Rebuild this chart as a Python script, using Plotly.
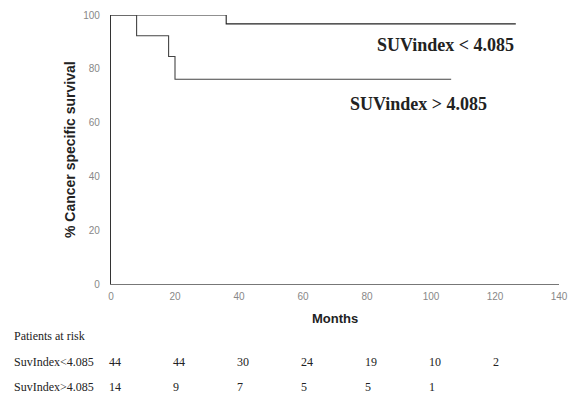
import plotly.graph_objects as go

# Kaplan-Meier step data
low_months = [0, 36, 126.5]
low_surv = [100, 96.7, 96.7]
high_months = [0, 8, 18, 20, 106.3]
high_surv = [100, 92.3, 84.6, 76.1, 76.1]

risk_times = [0, 20, 40, 60, 80, 100, 120]
risk_low = [44, 44, 30, 24, 19, 10, 2]
risk_high = [14, 9, 7, 5, 5, 1]
row_labels = ["SuvIndex<4.085", "SuvIndex>4.085"]

x_ticks = [0, 20, 40, 60, 80, 100, 120, 140]
y_ticks = [0, 20, 40, 60, 80, 100]

L, R, T, B = 111, 10, 15, 113
W, H = 569, 397
PW, PH = W - L - R, H - T - B


def px(xpix):
    return (xpix - L) / PW


def py(ypix):
    return (H - B - ypix) / PH


fig = go.Figure()
fig.add_trace(go.Scatter(x=low_months, y=low_surv, mode="lines", line=dict(shape="hv", color="#222", width=1.1), showlegend=False))
fig.add_trace(go.Scatter(x=high_months, y=high_surv, mode="lines", line=dict(shape="hv", color="#444", width=1.1), showlegend=False))

serif = "Liberation Serif"
sans = "Liberation Sans"
tc = "#222"

annotations = []
annotations.append(dict(x=126.5, y=88.7, xref="x", yref="y", text="<b>SUVindex < 4.085</b>", showarrow=False,
                        xanchor="right", yanchor="middle", font=dict(family=serif, size=18, color=tc)))
annotations.append(dict(x=96.2, y=66.9, xref="x", yref="y", text="<b>SUVindex > 4.085</b>", showarrow=False,
                        xanchor="center", yanchor="middle", font=dict(family=serif, size=18, color=tc)))
annotations.append(dict(x=px(70), y=py(150), xref="paper", yref="paper", text="<b>% Cancer specific survival</b>",
                        showarrow=False, textangle=-90, xanchor="center", yanchor="middle",
                        font=dict(family=sans, size=14, color=tc)))
annotations.append(dict(x=px(335), y=py(318), xref="paper", yref="paper", text="<b>Months</b>", showarrow=False,
                        xanchor="center", yanchor="middle", font=dict(family=sans, size=13, color=tc)))
annotations.append(dict(x=px(12), y=py(336), xref="paper", yref="paper", text="Patients at risk",
                        showarrow=False, xanchor="left", yanchor="middle", font=dict(family=serif, size=12, color=tc)))
for vals, ypix, lab in zip([risk_low, risk_high], [362, 387], row_labels):
    annotations.append(dict(x=px(12), y=py(ypix), xref="paper", yref="paper", text=lab, showarrow=False,
                            xanchor="left", yanchor="middle", font=dict(family=serif, size=12, color=tc)))
    for t, v in zip(risk_times, vals):
        annotations.append(dict(x=(t - 1.25) / 140, y=py(ypix), xref="paper", yref="paper", text=str(v), showarrow=False,
                                xanchor="left", yanchor="middle", font=dict(family=serif, size=12, color=tc)))

fig.update_layout(
    width=W, height=H,
    margin=dict(l=L, r=R, t=T, b=B, autoexpand=False),
    paper_bgcolor="white", plot_bgcolor="white",
    xaxis=dict(range=[0, 140], tickvals=x_ticks, showgrid=False, zeroline=False,
               showline=True, linecolor="#777", linewidth=1.2,
               tickfont=dict(family=sans, size=10, color="#888"), ticks="outside", ticklen=3, tickcolor="white"),
    yaxis=dict(range=[0, 100], tickvals=y_ticks, showgrid=False, zeroline=False,
               showline=True, linecolor="#333", linewidth=1.2,
               tickfont=dict(family=sans, size=10, color="#888"), ticks="outside", ticklen=8, tickcolor="white"),
    annotations=annotations,
)

fig.write_html("out.html", config={"displayModeBar": False},
               post_script="document.body.style.margin='0';")
